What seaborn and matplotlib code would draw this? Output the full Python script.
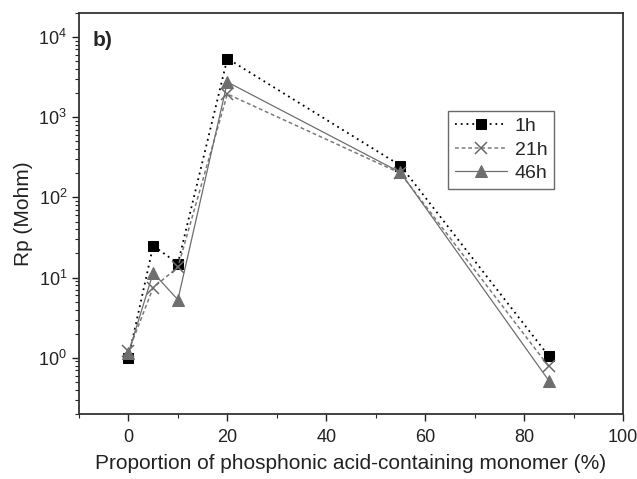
import matplotlib
matplotlib.use("Agg")
import matplotlib.pyplot as plt
import matplotlib.ticker as mticker
import numpy as np
import pandas as pd
import seaborn as sns

# Proportion of phosphonic acid-containing monomer (%)
proportion = [0, 5, 10, 20, 55, 85]

# Polarisation resistance Rp (Mohm) after each immersion time
rp_1h = [1.0, 25.0, 15.0, 5400.0, 250.0, 1.05]
rp_21h = [1.2, 7.5, 13.5, 1950.0, 200.0, 0.78]
rp_46h = [1.15, 11.5, 5.3, 2750.0, 205.0, 0.52]

series_labels = ["1h", "21h", "46h"]
x_ticks = [0, 20, 40, 60, 80, 100]

sns.set_style("white")
plt.rcParams["font.family"] = ["Liberation Sans", "DejaVu Sans"]
plt.rcParams["mathtext.default"] = "regular"

df = pd.DataFrame({
    "proportion": proportion * 3,
    "rp": rp_1h + rp_21h + rp_46h,
    "time": sum([[lab] * len(proportion) for lab in series_labels], []),
})

fig = plt.figure(figsize=(6.37, 4.79), dpi=100)
ax = fig.add_axes([0.124, 0.136, 0.854, 0.837])

styles = {
    "1h": dict(color="black", linestyle=(0, (1, 2.2)), marker="s", markersize=7,
               markerfacecolor="black", markeredgecolor="black", linewidth=1.3),
    "21h": dict(color="#7a7a7a", linestyle=(0, (2.5, 1.8)), marker="x", markersize=9,
                markeredgecolor="#6a6a6a", markeredgewidth=1.1, linewidth=1.1),
    "46h": dict(color="#6e6e6e", linestyle="-", marker="^", markersize=8,
                markerfacecolor="#6e6e6e", markeredgecolor="#6e6e6e", linewidth=0.9),
}

for lab in series_labels:
    sub = df[df["time"] == lab]
    sns.lineplot(data=sub, x="proportion", y="rp", ax=ax, label=lab,
                 estimator=None, sort=False, **styles[lab])

ax.set_yscale("log")
ax.set_xlim(-10, 100)
ax.set_ylim(0.2, 2.0e4)
ax.set_xticks(x_ticks)
ax.xaxis.set_minor_locator(mticker.MultipleLocator(10))
ax.yaxis.set_major_locator(mticker.LogLocator(base=10, numticks=10))
ax.yaxis.set_minor_locator(mticker.LogLocator(base=10, subs=np.arange(2, 10), numticks=20))
ax.yaxis.set_minor_formatter(mticker.NullFormatter())

ax.tick_params(axis="both", which="major", direction="out", length=5, width=1,
               labelsize=13, colors="#222222", bottom=True, left=True)
ax.tick_params(axis="both", which="minor", direction="out", length=3, width=0.8,
               bottom=True, left=True)
ax.tick_params(axis="x", which="major", pad=6)

for sp in ax.spines.values():
    sp.set_color("#333333")
    sp.set_linewidth(1.3)

ax.set_xlabel("Proportion of phosphonic acid-containing monomer (%)", fontsize=15,
              color="#222222", labelpad=6)
ax.set_ylabel("Rp (Mohm)", fontsize=15, color="#222222", labelpad=4)

ax.text(0.025, 0.93, "b)", transform=ax.transAxes, fontsize=15, fontweight="bold",
        ha="left", va="center")

leg = ax.legend(loc="upper left", bbox_to_anchor=(0.66, 0.78), frameon=True,
                fancybox=False, edgecolor="#444444", fontsize=14,
                handlelength=2.7, handletextpad=0.4, borderpad=0.35,
                labelspacing=0.3)
leg.get_frame().set_linewidth(1.0)

fig.savefig("out.png", dpi=100)
